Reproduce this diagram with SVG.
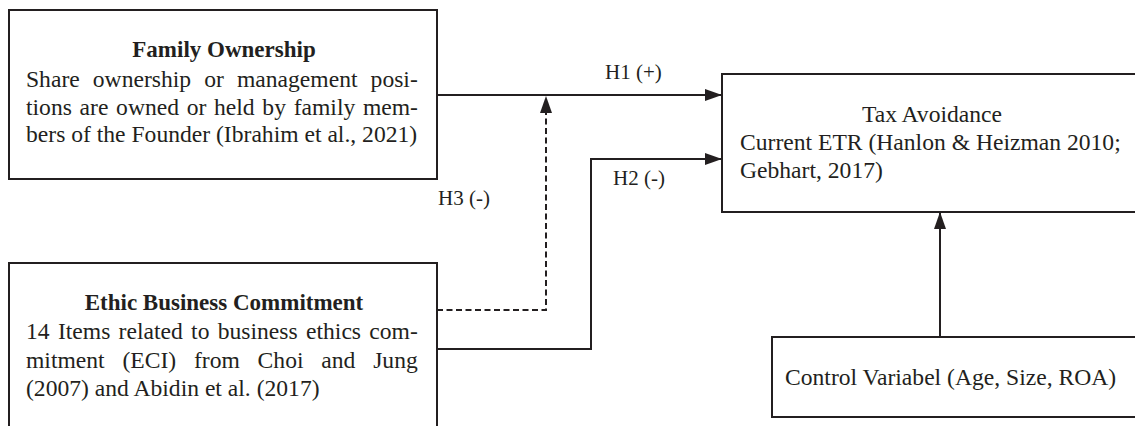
<svg xmlns="http://www.w3.org/2000/svg" width="1135" height="426" viewBox="0 0 1135 426">
<style>
.box{fill:#fff;stroke:#231f20;stroke-width:2}
.t{font-family:"Liberation Serif","Times New Roman",serif;font-size:23.6px;fill:#231f20}
.b{font-weight:bold;font-size:23px}
.lbl{font-family:"Liberation Serif","Times New Roman",serif;font-size:21px;fill:#231f20}
.c{fill:none;stroke:#231f20;stroke-width:2}
.d{stroke-dasharray:6 3.5}
</style>
<defs>
<marker id="ah" markerUnits="userSpaceOnUse" markerWidth="18" markerHeight="12" refX="17" refY="6" orient="auto">
<path d="M0,0 L17,6 L0,12 z" fill="#231f20"/>
</marker>
</defs>
<rect width="1135" height="426" fill="#fff"/>
<g id="connectors">
<path class="c" d="M437,95 H722" marker-end="url(#ah)"/>
<path class="c" d="M437,349 H591 V159 H722" marker-end="url(#ah)"/>
<path class="c d" d="M437,310 H546 V96" marker-end="url(#ah)"/>
<path class="c" d="M940,337 V212" marker-end="url(#ah)"/>
<text class="lbl" x="605" y="79">H1 (+)</text>
<text class="lbl" x="613" y="185">H2 (-)</text>
<text class="lbl" x="438" y="205">H3 (-)</text>
</g>
<g id="family">
<rect class="box" x="9" y="10" width="428" height="169"/>
<text class="t b" x="224" y="57" text-anchor="middle">Family Ownership</text>
<text class="t" x="26" y="87" word-spacing="7.2">Share ownership or management posi-</text>
<text class="t" x="26" y="115" word-spacing="1.8">tions are owned or held by family mem-</text>
<text class="t" x="26" y="142">bers of the Founder (Ibrahim et al., 2021)</text>
</g>
<g id="ethic">
<rect class="box" x="9" y="263" width="428" height="200"/>
<text class="t b" x="224" y="310" text-anchor="middle">Ethic Business Commitment</text>
<text class="t" x="26" y="339" word-spacing="2.4">14 Items related to business ethics com-</text>
<text class="t" x="26" y="368" word-spacing="11.9">mitment (ECI) from Choi and Jung</text>
<text class="t" x="26" y="396">(2007) and Abidin et al. (2017)</text>
</g>
<g id="tax">
<rect class="box" x="722" y="74" width="420" height="138"/>
<text class="t" x="932" y="122" text-anchor="middle">Tax Avoidance</text>
<text class="t" x="740" y="150">Current ETR (Hanlon &amp; Heizman 2010;</text>
<text class="t" x="740" y="178">Gebhart, 2017)</text>
</g>
<g id="control">
<rect class="box" x="772" y="337" width="380" height="80"/>
<text class="t" x="785" y="385">Control Variabel (Age, Size, ROA)</text>
</g>
</svg>
